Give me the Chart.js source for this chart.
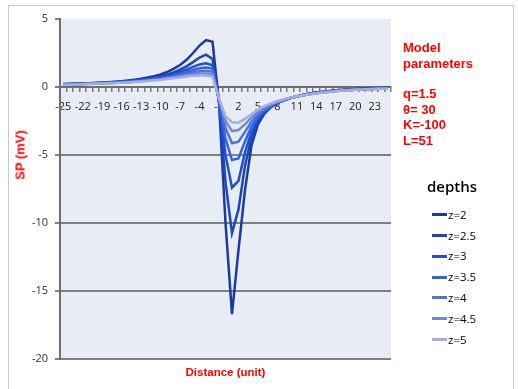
<!DOCTYPE html>
<html><head><meta charset="utf-8">
<script src="https://cdn.jsdelivr.net/npm/chart.js@4"></script>
<style>
body{margin:0;background:#fff;}
#wrap{position:relative;width:518px;height:389px;overflow:hidden;background:#fff;}
#frame{position:absolute;left:8px;top:5px;width:504px;height:400px;border:1px solid #c8c8c8;}
canvas{position:absolute;left:0;top:0;}
.ann{position:absolute;color:#ff0000;font:bold 13px "Liberation Sans",Arial,sans-serif;line-height:15.5px;white-space:nowrap;}
#ytitle{position:absolute;left:20px;top:155px;transform:translate(-50%,-50%) rotate(-90deg);color:#ff0000;font:bold 13px "Liberation Sans",Arial,sans-serif;white-space:nowrap;}
#legtitle{position:absolute;left:427px;top:176px;font:600 15px "Open Sans",sans-serif;color:#000;line-height:20px;}
.li{position:absolute;left:432px;height:20px;line-height:20px;font:500 11.5px "Open Sans",sans-serif;color:#000;white-space:nowrap;}
.li span.sw{display:inline-block;width:15px;height:3px;vertical-align:middle;margin-right:1px;position:relative;top:-1px;}
</style>
</head><body>
<div id="wrap">
<div id="frame"></div>
<canvas id="c" width="518" height="389"></canvas>
<div class="ann" style="left:403px;top:40px;">Model<br>parameters</div>
<div class="ann" style="left:403px;top:86px;">q=1.5<br>θ= 30<br>K=-100<br>L=51</div>
<div id="ytitle">SP (mV)</div>
<div id="legtitle">depths</div>
<div id="legend"></div>
</div>
<script>
const distance = [-25,-24,-23,-22,-21,-20,-19,-18,-17,-16,-15,-14,-13,-12,-11,-10,-9,-8,-7,-6,-5,-4,-3,-2,-1,0,1,2,3,4,5,6,7,8,9,10,11,12,13,14,15,16,17,18,19,20,21,22,23,24,25];
const seriesNames = ['z=2','z=2.5','z=3','z=3.5','z=4','z=4.5','z=5'];
const seriesColors = ['#1a3a9c','#1c45b8','#1e4fd2','#2f63e6','#4e72da','#7289d6','#a2afe0'];
const z2  = [0.22,0.23,0.24,0.26,0.28,0.30,0.32,0.35,0.39,0.43,0.48,0.54,0.61,0.70,0.80,0.93,1.10,1.33,1.62,2.00,2.50,3.05,3.45,3.33,-1.15,-10.0,-16.7,-12.0,-7.6,-4.3,-2.75,-1.95,-1.48,-1.18,-0.96,-0.80,-0.67,-0.57,-0.48,-0.41,-0.35,-0.30,-0.25,-0.21,-0.18,-0.15,-0.13,-0.11,-0.09,-0.07,-0.06];
const z25 = [0.21,0.22,0.24,0.25,0.27,0.29,0.31,0.34,0.37,0.40,0.44,0.49,0.54,0.61,0.69,0.79,0.91,1.07,1.27,1.52,1.83,2.17,2.38,2.06,-1.10,-7.0,-10.75,-9.0,-5.8,-3.7,-2.55,-1.90,-1.47,-1.18,-0.97,-0.81,-0.68,-0.58,-0.49,-0.42,-0.36,-0.31,-0.26,-0.22,-0.19,-0.16,-0.14,-0.12,-0.10,-0.08,-0.07];
const z3  = [0.20,0.21,0.23,0.24,0.26,0.28,0.30,0.32,0.35,0.38,0.42,0.46,0.51,0.57,0.64,0.72,0.82,0.95,1.10,1.28,1.48,1.66,1.74,1.60,-1.05,-5.0,-7.4,-6.9,-4.8,-3.3,-2.40,-1.83,-1.45,-1.17,-0.97,-0.81,-0.69,-0.59,-0.50,-0.43,-0.37,-0.32,-0.27,-0.23,-0.20,-0.17,-0.15,-0.13,-0.11,-0.09,-0.08];
const z35 = [0.19,0.20,0.22,0.23,0.25,0.27,0.29,0.31,0.33,0.36,0.40,0.44,0.48,0.53,0.59,0.66,0.75,0.85,0.97,1.10,1.25,1.38,1.44,1.35,-1.00,-3.8,-5.37,-5.25,-4.0,-2.9,-2.20,-1.74,-1.41,-1.16,-0.97,-0.82,-0.70,-0.60,-0.51,-0.44,-0.38,-0.33,-0.28,-0.24,-0.21,-0.18,-0.16,-0.14,-0.12,-0.10,-0.09];
const z4  = [0.18,0.19,0.21,0.22,0.24,0.26,0.27,0.29,0.32,0.34,0.37,0.41,0.45,0.50,0.55,0.60,0.68,0.77,0.87,0.97,1.08,1.16,1.20,1.12,-0.95,-3.0,-4.14,-4.02,-3.3,-2.55,-2.00,-1.63,-1.35,-1.13,-0.96,-0.82,-0.70,-0.61,-0.52,-0.45,-0.39,-0.34,-0.29,-0.25,-0.22,-0.19,-0.17,-0.15,-0.13,-0.11,-0.10];
const z45 = [0.17,0.18,0.20,0.21,0.23,0.24,0.26,0.28,0.30,0.33,0.35,0.38,0.42,0.47,0.51,0.56,0.63,0.70,0.78,0.86,0.94,1.00,1.00,0.92,-0.90,-2.5,-3.24,-3.16,-2.75,-2.25,-1.80,-1.50,-1.27,-1.08,-0.93,-0.80,-0.69,-0.61,-0.53,-0.46,-0.40,-0.35,-0.30,-0.26,-0.23,-0.20,-0.18,-0.16,-0.14,-0.12,-0.11];
const z5  = [0.16,0.17,0.19,0.20,0.22,0.23,0.25,0.27,0.29,0.31,0.33,0.36,0.40,0.44,0.48,0.52,0.58,0.64,0.70,0.77,0.82,0.85,0.84,0.75,-0.85,-2.15,-2.60,-2.62,-2.35,-2.0,-1.65,-1.40,-1.20,-1.03,-0.90,-0.78,-0.68,-0.60,-0.53,-0.47,-0.41,-0.36,-0.31,-0.27,-0.24,-0.21,-0.19,-0.17,-0.15,-0.13,-0.12];
const seriesValues = [z2, z25, z3, z35, z4, z45, z5];
const yTicks = [5, 0, -5, -10, -15, -20];
const xLabelEvery = 3;

const datasets = seriesNames.map((n, i) => ({
  label: n,
  data: seriesValues[i],
  borderColor: seriesColors[i],
  backgroundColor: seriesColors[i],
  borderWidth: 2.5,
  pointRadius: 0,
  tension: 0,
  fill: false,
  order: seriesNames.length - i
}));

// HTML legend built from the same series arrays
const leg = document.getElementById('legend');
seriesNames.forEach((n, i) => {
  const d = document.createElement('div');
  d.className = 'li';
  d.style.top = (206.7 + i * 20.83) + 'px';
  d.innerHTML = '<span class="sw" style="background:' + seriesColors[i] + '"></span>' + n;
  leg.appendChild(d);
});

const plotBg = {
  id: 'plotBg',
  beforeDraw(chart) {
    const {ctx, chartArea: a} = chart;
    ctx.save();
    ctx.fillStyle = '#e8ecf5';
    ctx.fillRect(a.left, a.top, a.right - a.left, a.bottom - a.top);
    ctx.restore();
  }
};

new Chart(document.getElementById('c'), {
  type: 'line',
  data: { labels: distance, datasets },
  plugins: [plotBg],
  options: {
    responsive: false,
    animation: false,
    devicePixelRatio: 1,
    layout: { padding: { left: 0, top: 19, right: 127, bottom: 0 } },
    plugins: { legend: { display: false }, tooltip: { enabled: false } },
    scales: {
      x: {
        type: 'category',
        position: { y: 0 },
        offset: true,
        grid: { display: true, drawOnChartArea: false, drawTicks: true, tickLength: 4, color: '#7a7a7a', lineWidth: 1.5, offset: true },
        border: { display: true, color: '#6e6e6e', width: 2 },
        ticks: {
          autoSkip: false, maxRotation: 0, minRotation: 0, padding: 9,
          color: '#222', font: { family: 'Open Sans', size: 11 },
          callback: function(val, idx) { const l = distance[idx]; return ((l - distance[0]) % xLabelEvery === 0) ? String(l) : ''; }
        }
      },
      x2: {
        type: 'category',
        position: 'bottom',
        offset: true,
        grid: { display: false },
        border: { display: false },
        ticks: { display: false },
        title: { display: true, text: 'Distance (unit)', color: '#ff0000', font: { family: 'Liberation Sans', size: 11.5, weight: 'bold' }, padding: { top: 0, bottom: 9 } },
        afterFit: s => { s.height = 30; }
      },
      y: {
        min: -20, max: 5,
        afterBuildTicks: s => { s.ticks = yTicks.map(v => ({ value: v })); },
        afterFit: s => { s.width = 60; },
        grid: {
          color: c => (c.tick && c.tick.value === 5) ? 'rgba(0,0,0,0)' : '#7f7f7f',
          tickColor: '#7f7f7f',
          lineWidth: 2, tickLength: 5
        },
        border: { display: true, color: '#6e6e6e', width: 2 },
        ticks: { padding: 7, color: '#333', font: { family: 'Open Sans', size: 11 } }
      }
    }
  }
});
</script>
</body></html>
